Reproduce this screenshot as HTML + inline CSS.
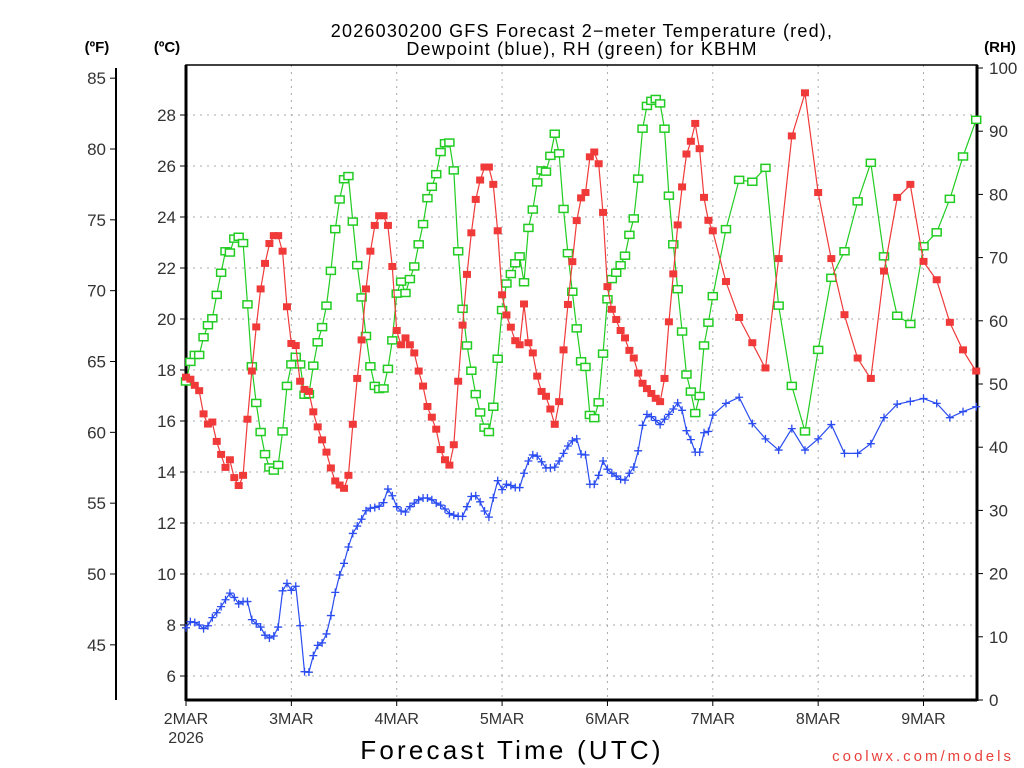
<!DOCTYPE html>
<html><head><meta charset="utf-8">
<style>
html,body{margin:0;padding:0;background:#fff;width:1024px;height:768px;overflow:hidden}
svg{display:block;font-family:"Liberation Sans",sans-serif}
</style></head>
<body>
<svg id="chart" width="1024" height="768" viewBox="0 0 1024 768" xmlns="http://www.w3.org/2000/svg">
<g font-size="18" text-anchor="middle" fill="#000" letter-spacing="1.2">
<text x="582" y="37">2026030200 GFS Forecast 2−meter Temperature (red),</text>
<text x="582" y="55">Dewpoint (blue), RH (green) for KBHM</text>
</g>
<text x="97" y="52" font-size="15" font-weight="bold" text-anchor="middle">(ºF)</text>
<text x="167" y="52" font-size="15" font-weight="bold" text-anchor="middle">(ºC)</text>
<text x="1000" y="52" font-size="15" font-weight="bold" text-anchor="middle">(RH)</text>
<g id="grid"></g>
<g id="axes"></g>
<g id="series"></g>
<text x="512" y="759" font-size="26" text-anchor="middle" letter-spacing="3.2">Forecast Time (UTC)</text>
<text x="1014" y="761" font-size="15" fill="#e8413b" text-anchor="end" letter-spacing="3">coolwx.com/models</text>
</svg>
<script>
const hours=[0,1,2,3,4,5,6,7,8,9,10,11,12,13,14,15,16,17,18,19,20,21,22,23,24,25,26,27,28,29,30,31,32,33,34,35,36,37,38,39,40,41,42,43,44,45,46,47,48,49,50,51,52,53,54,55,56,57,58,59,60,61,62,63,64,65,66,67,68,69,70,71,72,73,74,75,76,77,78,79,80,81,82,83,84,85,86,87,88,89,90,91,92,93,94,95,96,97,98,99,100,101,102,103,104,105,106,107,108,109,110,111,112,113,114,115,116,117,118,119,120,123,126,129,132,135,138,141,144,147,150,153,156,159,162,165,168,171,174,177,180];
const tempC=[17.7,17.62,17.38,17.17,16.26,15.86,15.94,15.18,14.67,14.16,14.46,13.76,13.45,13.85,16.05,17.94,19.67,21.16,22.16,22.94,23.25,23.25,22.64,20.46,19.02,18.94,17.54,17.22,17.14,16.34,15.75,15.24,14.76,14.14,13.63,13.47,13.34,13.85,15.85,17.65,19.16,21.16,22.64,23.65,24.03,24.03,23.65,22.04,19.53,
18.97,19.24,18.97,18.65,17.94,17.35,16.55,16.13,15.66,14.86,14.46,14.25,15.05,17.54,19.74,21.73,23.36,24.67,25.43,25.94,25.94,25.26,23.44,20.93,20.14,19.66,19.13,18.97,20.57,19.05,18.65,17.74,17.14,16.95,16.45,15.85,16.74,18.77,20.55,22.23,23.84,24.73,24.94,26.34,26.53,26.07,24.16,21.25,
20.36,19.96,19.53,19.24,18.75,18.45,17.86,17.46,17.25,17.06,16.87,16.74,17.65,19.87,21.75,23.67,25.16,26.45,26.95,27.65,26.66,24.75,23.85,23.44,
21.45,20.04,19.05,18.06,22.35,27.16,28.85,24.94,22.35,20.15,18.45,17.65,21.86,24.75,25.26,22.24,21.52,19.85,18.77,17.94];
const dewC=[7.89,8.13,8.10,8.00,7.86,7.97,8.29,8.48,8.72,8.99,9.25,9.08,8.83,8.92,8.92,8.21,8.05,7.92,7.60,7.49,7.57,7.92,9.34,9.63,9.36,9.52,7.97,6.17,6.15,6.80,7.20,7.30,7.65,8.37,9.28,9.96,10.42,11.06,11.59,11.88,12.15,12.48,12.58,12.61,12.66,12.80,13.33,13.07,12.64,
12.47,12.43,12.64,12.78,12.91,12.98,12.98,12.91,12.78,12.70,12.55,12.37,12.31,12.26,12.26,12.64,13.04,13.07,12.83,12.47,12.23,12.99,13.66,13.31,13.52,13.47,13.39,13.39,13.95,14.43,14.67,14.62,14.40,14.16,14.16,14.19,14.43,14.73,15.02,15.22,15.30,14.70,14.67,13.52,13.52,13.87,14.43,14.11,
13.95,13.84,13.71,13.68,13.95,14.19,14.83,15.83,16.26,16.17,16.02,15.86,16.07,16.26,16.47,16.71,16.42,15.62,15.27,14.78,14.78,15.54,15.59,16.23,
16.69,16.93,15.90,15.30,14.86,15.70,14.86,15.30,15.86,14.73,14.73,15.11,16.13,16.66,16.77,16.88,16.69,16.13,16.37,16.56];
const rhPct=[50.4,53.5,54.6,54.6,57.4,59.3,60.4,64.1,67.6,71.0,70.8,73.0,73.3,72.3,62.6,52.8,47.0,42.4,38.9,36.8,36.3,37.2,42.5,49.7,53.1,54.3,53.1,48.3,48.4,52.9,56.6,59.0,62.4,67.9,74.5,79.2,82.4,82.9,75.7,68.8,63.7,57.6,52.8,49.7,49.2,49.3,52.4,56.9,64.3,
66.2,64.4,66.6,68.6,72.1,75.3,79.4,81.2,83.2,86.7,88.1,88.2,83.8,71.0,61.9,56.1,52.1,48.4,45.5,43.1,42.4,46.4,54.0,61.7,65.9,67.4,69.1,70.2,66.1,74.7,77.6,81.9,83.8,83.6,86.1,89.6,86.5,77.7,70.7,64.6,58.8,53.6,52.7,45.1,44.6,47.1,54.8,63.4,
66.6,67.6,68.8,70.3,73.6,76.2,82.5,90.4,94.0,94.8,95.1,94.4,90.4,79.8,72.1,65.0,58.3,51.5,48.8,45.4,48.1,56.1,59.7,63.9,
74.5,82.3,82.0,84.2,62.4,49.7,42.5,55.4,66.8,71.0,78.9,85.0,70.2,60.8,59.5,71.8,74.0,79.3,86.0,91.8];
const celsiusTicks=[6,8,10,12,14,16,18,20,22,24,26,28];
const fahrenheitTicks=[45,50,55,60,65,70,75,80,85];
const rhTicks=[0,10,20,30,40,50,60,70,80,90,100];
const dayLabels=["2MAR","3MAR","4MAR","5MAR","6MAR","7MAR","8MAR","9MAR"];

const NS="http://www.w3.org/2000/svg";
const L=186,R=977,T=65,B=700;
const xs=h=>L+h*4.39;
const yC=c=>115+(28-c)*25.5;
const yF=f=>yC((f-32)/1.8);
const yRH=r=>700-r*6.32;
function mk(tag,attrs,parent){const e=document.createElementNS(NS,tag);for(const k in attrs)e.setAttribute(k,attrs[k]);parent.appendChild(e);return e;}
const grid=document.getElementById('grid'),axes=document.getElementById('axes'),series=document.getElementById('series');

celsiusTicks.forEach(c=>{
  const g=mk('line',{x1:L,x2:R,y1:yC(c),y2:yC(c),stroke:'#aaa','stroke-width':1,'stroke-dasharray':'2,5'},grid);
  
  
  const t=mk('line',{x1:L-6,x2:L,y1:yC(c),y2:yC(c),stroke:'#000'},axes);
  
  
  const tx=mk('text',{x:L-10,y:yC(c)+6,'font-size':17,'text-anchor':'end',fill:'#333'},axes);
  tx.textContent=c;
  
  
});
dayLabels.forEach((d,i)=>{
  const x=xs(i*24);
  if(i>0){const g=mk('line',{x1:x,x2:x,y1:T,y2:B,stroke:'#aaa','stroke-width':1,'stroke-dasharray':'2,5'},grid);
  
  }
  const t=mk('line',{x1:x,x2:x,y1:B,y2:B+6,stroke:'#000'},axes);
  
  
  const tx=mk('text',{x:x,y:724,'font-size':16,'text-anchor':'middle',fill:'#333'},axes);
  tx.textContent=d;
  
  
});
const yr=mk('text',{x:186,y:743,'font-size':16,'text-anchor':'middle',fill:'#333'},axes);
yr.textContent="2026";


const fl=mk('line',{x1:116,x2:116,y1:68,y2:700,stroke:'#000','stroke-width':2},axes);


fahrenheitTicks.forEach(f=>{
  const t=mk('line',{x1:110,x2:116,y1:yF(f),y2:yF(f),stroke:'#000'},axes);
  
  
  const tx=mk('text',{x:106,y:yF(f)+6,'font-size':17,'text-anchor':'end',fill:'#333'},axes);
  tx.textContent=f;
  
  
});
rhTicks.forEach(r=>{
  const t=mk('line',{x1:R,x2:R+6,y1:yRH(r),y2:yRH(r),stroke:'#000'},axes);
  
  
  const tx=mk('text',{x:989,y:yRH(r)+6,'font-size':17,'text-anchor':'start',fill:'#333'},axes);
  tx.textContent=r;
  
  
});
const fr=mk('rect',{x:L,y:T,width:R-L,height:B-T,fill:'none',stroke:'#000','stroke-width':1.5},axes);


const lb=mk('line',{x1:L,x2:L,y1:T,y2:B+1,stroke:'#000','stroke-width':3},axes);


const bb=mk('line',{x1:L,x2:R,y1:B,y2:B,stroke:'#000','stroke-width':3},axes);


const rb=mk('line',{x1:R,x2:R,y1:T,y2:B+1,stroke:'#000','stroke-width':3},axes);



function drawSeries(vals,yf,color,kind,name){
  const g=mk('g',{},series);
  
  
  const pts=vals.map((v,i)=>xs(hours[i]).toFixed(1)+','+yf(v).toFixed(1)).join(' ');
  const pl=mk('polyline',{points:pts,fill:'none',stroke:color,'stroke-width':1.2},g);
  
  
  vals.forEach((v,i)=>{
    const x=xs(hours[i]),y=yf(v);let m;
    if(kind==='filled'){m=mk('rect',{x:x-4,y:y-4,width:8,height:7,fill:color},g);}
    else if(kind==='hollow'){m=mk('rect',{x:x-4.5,y:y-3.5,width:9,height:7,fill:'#fff',stroke:color,'stroke-width':1.5},g);}
    else{m=mk('path',{d:`M${x-4},${y}H${x+4}M${x},${y-4}V${y+4}`,stroke:color,'stroke-width':1.3},g);}
    
    
  });
}
drawSeries(rhPct,yRH,'#22cc22','hollow','rh');
drawSeries(tempC,yC,'#f03a3a','filled','temperature');
drawSeries(dewC,yC,'#2a4cf0','plus','dewpoint');
</script>
</body></html>
